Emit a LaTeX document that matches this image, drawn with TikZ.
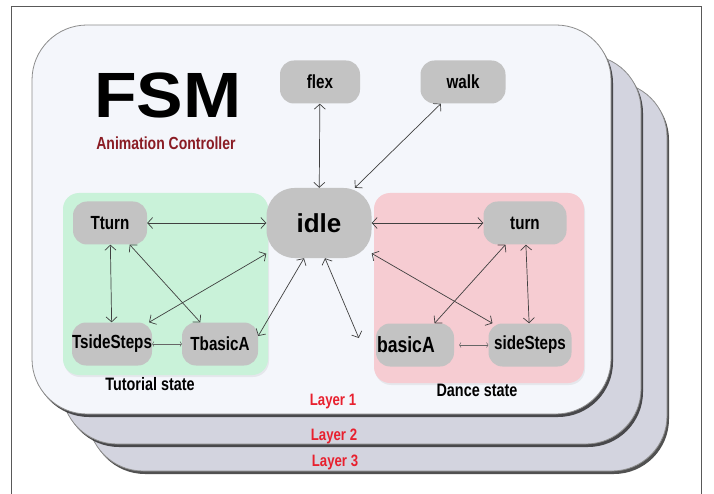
\documentclass[tikz,border=0pt]{standalone}
\usepackage{fontspec}
\setmainfont{Liberation Sans}[FakeStretch=0.8]
\newfontfamily\titlefont{Liberation Sans}
\usetikzlibrary{shadows,arrows.meta}
\definecolor{cardfill}{HTML}{F4F6FB}
\definecolor{backfill}{HTML}{D3D4DF}
\definecolor{tutfill}{HTML}{C9F2D9}
\definecolor{dancefill}{HTML}{F6CCD2}
\definecolor{stfill}{HTML}{C3C3C3}
\definecolor{layred}{HTML}{E8202E}
\definecolor{ctrlred}{HTML}{8A1C24}

\begin{document}
\begin{tikzpicture}[x=1pt,y=-1pt]
\tikzstyle{card}=[draw=black!45,line width=0.8pt,rounded corners=55pt,drop shadow={shadow xshift=2pt,shadow yshift=-3pt,opacity=.8,fill=black!85}]
\tikzstyle{region}=[rounded corners=16pt,drop shadow={shadow xshift=1pt,shadow yshift=-2pt,opacity=.12}]
\tikzstyle{st}=[fill=stfill,rounded corners=14pt,minimum width=78pt,minimum height=43pt,inner sep=0pt,font=\fontsize{19}{21}\selectfont\bfseries]
\tikzstyle{lay}=[text=layred,font=\fontsize{16.5}{18}\selectfont\bfseries]
\tikzstyle{grouplbl}=[font=\fontsize{18}{20}\selectfont\bfseries]
\tikzstyle{tr}=[black!75,line width=0.7pt,{Straight Barb[length=5pt,width=11pt]}-{Straight Barb[length=5pt,width=11pt]}]
\tikzstyle{trs}=[black!60,line width=0.5pt,{Straight Barb[length=1.5pt,width=5pt]}-{Straight Barb[length=1.5pt,width=5pt]}]

\useasboundingbox (0,0) rectangle (714,494);
\draw[black!65,line width=1pt] (11,494) -- (11,7) -- (701,7) -- (701,494);

% layers
\draw[card,fill=backfill] (88,82) rectangle (667,471);
\draw[card,fill=backfill] (62,55) rectangle (641,444);
\draw[card,fill=cardfill] (32,25) rectangle (611,414);
\node[lay] (lay1) at (333,402) {Layer 1};
\node[lay] (lay2) at (334,436) {Layer 2};
\node[lay] (lay3) at (335,462) {Layer 3};

% title
\node (fsm) at (168,95) {\titlefont\bfseries\fontsize{64}{64}\selectfont\scalebox{1.09}[1]{FSM}};
\node[text=ctrlred,font=\fontsize{17.5}{19}\selectfont\bfseries] (anim) at (166,143) {Animation Controller};

% state groups
\fill[region,tutfill] (63,193) rectangle (268,375);
\fill[region,dancefill] (374,193) rectangle (584,383);
\node[grouplbl] (tut) at (150,384) {Tutorial state};
\node[grouplbl] (dance) at (477,390) {Dance state};

% states
\node[st,minimum width=80pt] (flex) at (320,82) {flex};
\node[st,minimum width=85pt] (walk) at (463,82) {walk};
\node[st,minimum width=105pt,minimum height=70pt,rounded corners=28pt,font=\titlefont\fontsize{26}{28}\selectfont\bfseries] (idle) at (319,223) {idle};
\node[st,minimum width=74pt] (Tturn) at (110,223) {Tturn};
\node[st,minimum width=83pt] (turn) at (525,223) {turn};
\node[st,minimum width=80pt] (TsideSteps) at (112,344) {TsideSteps};
\node[st,minimum width=76pt] (TbasicA) at (220,344) {TbasicA};
\node[st,text width=76pt,align=left,inner xsep=1pt,font=\fontsize{22}{24}\selectfont\bfseries] (basicA) at (415,345) {basicA};
\node[st,minimum width=83pt] (sideSteps) at (530,345) {sideSteps};

% transitions
\draw[tr] (flex) -- (idle);
\draw[tr] (walk) -- (idle);
\draw[tr] (Tturn) -- (idle);
\draw[tr] (idle) -- (turn);
\draw[tr] (Tturn) -- (TsideSteps);
\draw[tr] (Tturn) -- (TbasicA);
\draw[tr] (idle) -- (TsideSteps);
\draw[tr] ([xshift=-15pt]idle.south) -- ([yshift=8pt]TbasicA.east);
\draw[tr] ([xshift=6pt]idle.south) -- ([xshift=-17pt,yshift=7pt]basicA.west);
\draw[tr] (idle) -- (sideSteps);
\draw[tr] (turn) -- (basicA);
\draw[tr] (turn) -- (sideSteps);
\draw[trs] (TsideSteps) -- (TbasicA);
\draw[trs,shorten <=5pt] (basicA) -- (sideSteps);
\end{tikzpicture}
\end{document}
